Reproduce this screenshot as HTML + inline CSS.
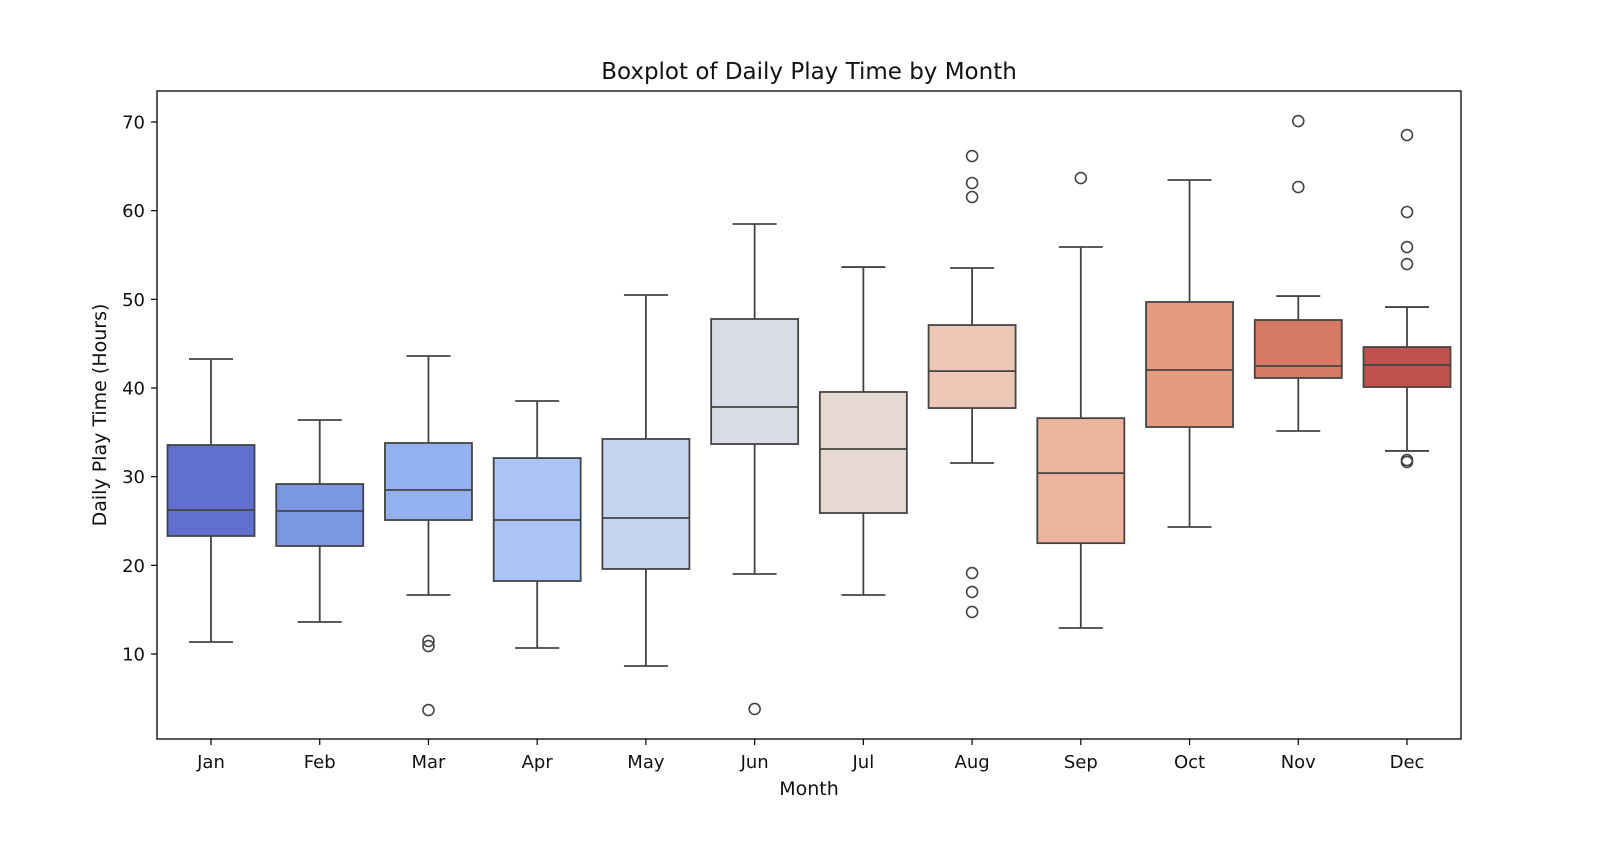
<!DOCTYPE html>
<html><head><meta charset="utf-8"><style>
body{margin:0;background:#fff}
svg text{font-family:"DejaVu Sans","Liberation Sans",sans-serif;fill:#111}
</style></head><body>
<svg id="chart" width="1600" height="836" xmlns="http://www.w3.org/2000/svg">
<text x="809" y="79" font-size="23" text-anchor="middle">Boxplot of Daily Play Time by Month</text>
<text x="809" y="795" font-size="19" text-anchor="middle">Month</text>
<text transform="translate(106,415) rotate(-90)" font-size="19" text-anchor="middle">Daily Play Time (Hours)</text>
<g id="plot"></g>
<rect x="157" y="91" width="1304" height="648" fill="none" stroke="#000" stroke-width="1.3"/>
</svg>
<script>
const months=["Jan","Feb","Mar","Apr","May","Jun","Jul","Aug","Sep","Oct","Nov","Dec"];
const whiskerLow=[11.35,13.61,16.65,10.68,8.65,19.02,16.65,31.54,12.93,24.32,35.15,32.9];
const q1=[23.31,22.18,25.11,18.23,19.59,33.68,25.9,37.74,22.5,35.6,41.13,40.11];
const medians=[26.24,26.13,28.5,25.11,25.34,37.86,33.12,41.9,30.4,42.03,42.48,42.6];
const q3=[33.57,29.17,33.8,32.1,34.25,47.78,39.55,47.1,36.6,49.7,47.67,44.62];
const whiskerHigh=[43.27,36.39,43.61,38.53,50.49,58.5,53.64,53.53,55.9,63.46,50.37,49.13];
const outliers=[[],[],[11.47,10.9,3.68],[],[],[3.8],[],[66.16,63.12,61.54,19.13,17,14.74],[63.68],[],[70.11,62.67],[68.53,59.85,55.9,53.98,31.88,31.66]];
const colors=["#6070cc","#7b97e3","#93b0ef","#abc4f5","#c4d5f1","#d7dce6","#e6d9d3","#ecc7b6","#ebb49c","#e49b7f","#d57a64","#c0524e"];
const yTicks=[10,20,30,40,50,60,70];
const yScale=v=>654-(v-10)*532/60;
const xScale=i=>211+i*(1407-211)/11;
const NS="http://www.w3.org/2000/svg";
const plot=document.getElementById('plot');
function mk(tag,attrs,parent){const e=document.createElementNS(NS,tag);for(const k in attrs)e.setAttribute(k,attrs[k]);(parent||plot).appendChild(e);return e;}
yTicks.forEach(t=>{
  const y=yScale(t);
  const l=mk('line',{x1:151,x2:157,y1:y,y2:y,stroke:'#000','stroke-width':1.2});
  
  
  const tx=mk('text',{x:145,y:y+6.5,'font-size':18,'text-anchor':'end'});
  tx.textContent=t;
  
  
});
const hw=43.5,cap=22,st='#444';
months.forEach((m,i)=>{
  const x=xScale(i);
  const g=mk('g',{});
  
  
  mk('line',{x1:x,x2:x,y1:yScale(whiskerHigh[i]),y2:yScale(q3[i]),stroke:st,'stroke-width':1.8},g);
  mk('line',{x1:x,x2:x,y1:yScale(q1[i]),y2:yScale(whiskerLow[i]),stroke:st,'stroke-width':1.8},g);
  mk('line',{x1:x-cap,x2:x+cap,y1:yScale(whiskerHigh[i]),y2:yScale(whiskerHigh[i]),stroke:st,'stroke-width':1.8},g);
  mk('line',{x1:x-cap,x2:x+cap,y1:yScale(whiskerLow[i]),y2:yScale(whiskerLow[i]),stroke:st,'stroke-width':1.8},g);
  mk('rect',{x:x-hw,y:yScale(q3[i]),width:2*hw,height:yScale(q1[i])-yScale(q3[i]),fill:colors[i],stroke:st,'stroke-width':1.8},g);
  mk('line',{x1:x-hw,x2:x+hw,y1:yScale(medians[i]),y2:yScale(medians[i]),stroke:st,'stroke-width':1.8},g);
  outliers[i].forEach(v=>{
    const c=mk('circle',{cx:x,cy:yScale(v),r:5.5,fill:'none',stroke:st,'stroke-width':1.6},g);
    
    
  });
  const tk=mk('line',{x1:x,x2:x,y1:739,y2:745,stroke:'#000','stroke-width':1.2});
  
  
  const tx=mk('text',{x:x,y:768,'font-size':18,'text-anchor':'middle'});
  tx.textContent=m;
  
  
});
</script>
</body></html>
